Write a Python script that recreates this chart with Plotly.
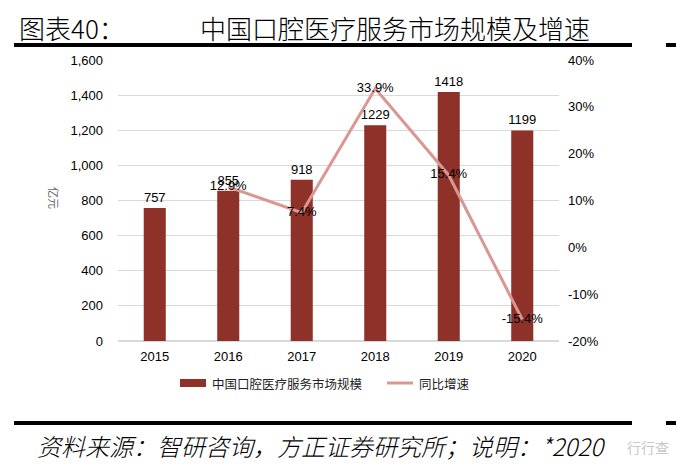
import plotly.graph_objects as go

years = ["2015", "2016", "2017", "2018", "2019", "2020"]
market_size = [757, 855, 918, 1229, 1418, 1199]
growth = [None, 12.9, 7.4, 33.9, 15.4, -15.4]
growth_labels = ["", "12.9%", "7.4%", "33.9%", "15.4%", "-15.4%"]
left_ticks = [0, 200, 400, 600, 800, 1000, 1200, 1400, 1600]
right_ticks = [-20, -10, 0, 10, 20, 30, 40]

W, H = 689, 471
L, R, T, B = 118, 559, 60, 341
BAR_COLOR = "#8E3129"
LINE_COLOR = "#DA9692"
FONT = "Liberation Sans, Arial, sans-serif"
CJK = "Noto Sans CJK SC"


def px(x):
    return (x - L) / (R - L)


def py(y):
    return (B - y) / (B - T)


fig = go.Figure()
fig.add_trace(go.Bar(
    x=years, y=market_size, name="中国口腔医疗服务市场规模",
    marker=dict(color=BAR_COLOR, line=dict(width=0)),
    width=0.3, text=[str(v) for v in market_size], textposition="outside",
    constraintext="none",
    textfont=dict(family=FONT, size=13, color="#000"),
    cliponaxis=False, showlegend=False, yaxis="y"))
fig.add_trace(go.Scatter(
    x=years, y=growth, name="同比增速", mode="lines+text",
    line=dict(color=LINE_COLOR, width=3),
    text=growth_labels, textposition="middle center",
    textfont=dict(family=FONT, size=13, color="#000"),
    cliponaxis=False, showlegend=False, yaxis="y2"))

shapes = []
annotations = []
# title rules
for yy in (45, 423):
    shapes.append(dict(type="line", xref="paper", yref="paper",
                       x0=px(14), x1=px(632), y0=py(yy), y1=py(yy),
                       line=dict(color="#000", width=4)))
    shapes.append(dict(type="line", xref="paper", yref="paper",
                       x0=px(666), x1=px(676), y0=py(yy), y1=py(yy),
                       line=dict(color="#000", width=4)))

annotations.append(dict(xref="paper", yref="paper", x=px(17), y=py(27),
                        xanchor="left", yanchor="middle", showarrow=False,
                        text="图表40：", font=dict(family=CJK, size=26, color="#000", weight=300)))
annotations.append(dict(xref="paper", yref="paper", x=px(198), y=py(27),
                        xanchor="left", yanchor="middle", showarrow=False,
                        text="中国口腔医疗服务市场规模及增速",
                        font=dict(family=CJK, size=26, color="#000", weight=300)))
annotations.append(dict(xref="paper", yref="paper", x=px(35), y=py(445),
                        xanchor="left", yanchor="middle", showarrow=False,
                        text="资料来源：智研咨询，方正证券研究所；说明：*2020",
                        font=dict(family=CJK, size=24, color="#000", style="italic", weight=300)))
annotations.append(dict(xref="paper", yref="paper", x=px(648), y=py(447),
                        xanchor="center", yanchor="middle", showarrow=False,
                        text="行行查", font=dict(family=CJK, size=14, color="#C8C8C8")))
# y axis title
annotations.append(dict(xref="paper", yref="paper", x=px(54), y=py(198),
                        xanchor="center", yanchor="middle", showarrow=False,
                        text="亿元", textangle=90,
                        font=dict(family=CJK, size=11, color="#666")))
# legend (manual)
shapes.append(dict(type="rect", xref="paper", yref="paper",
                   x0=px(180), x1=px(206), y0=py(379), y1=py(387),
                   fillcolor=BAR_COLOR, line=dict(width=0)))
annotations.append(dict(xref="paper", yref="paper", x=px(210), y=py(383),
                        xanchor="left", yanchor="middle", showarrow=False,
                        text="中国口腔医疗服务市场规模",
                        font=dict(family=CJK, size=12.5, color="#222")))
shapes.append(dict(type="line", xref="paper", yref="paper",
                   x0=px(387), x1=px(413), y0=py(383), y1=py(383),
                   line=dict(color=LINE_COLOR, width=3)))
annotations.append(dict(xref="paper", yref="paper", x=px(417), y=py(383),
                        xanchor="left", yanchor="middle", showarrow=False,
                        text="同比增速",
                        font=dict(family=CJK, size=12.5, color="#222")))

fig.update_layout(
    width=W, height=H,
    margin=dict(l=L, r=W - R, t=T, b=H - B, pad=0),
    paper_bgcolor="#fff", plot_bgcolor="#fff",
    showlegend=False, bargap=0.7,
    xaxis=dict(type="category", showgrid=False, showline=False, ticks="",
               tickfont=dict(family=FONT, size=13, color="#000"),
               ticklabelstandoff=6),
    yaxis=dict(range=[0, 1600], tickvals=left_ticks,
               ticktext=[f"{v:,}" for v in left_ticks],
               showgrid=True, gridcolor="#D9D9D9", gridwidth=1,
               zeroline=True, zerolinecolor="#D9D9D9", showline=False, ticks="",
               tickfont=dict(family=FONT, size=13, color="#000"),
               ticklabelstandoff=14),
    yaxis2=dict(range=[-20, 40], tickvals=right_ticks,
                ticktext=[f"{v}%" for v in right_ticks],
                overlaying="y", side="right", showgrid=False, zeroline=False,
                showline=False, ticks="",
                tickfont=dict(family=FONT, size=13, color="#000"),
                ticklabelstandoff=8),
    shapes=shapes, annotations=annotations,
)

fig.write_html("out.html")
